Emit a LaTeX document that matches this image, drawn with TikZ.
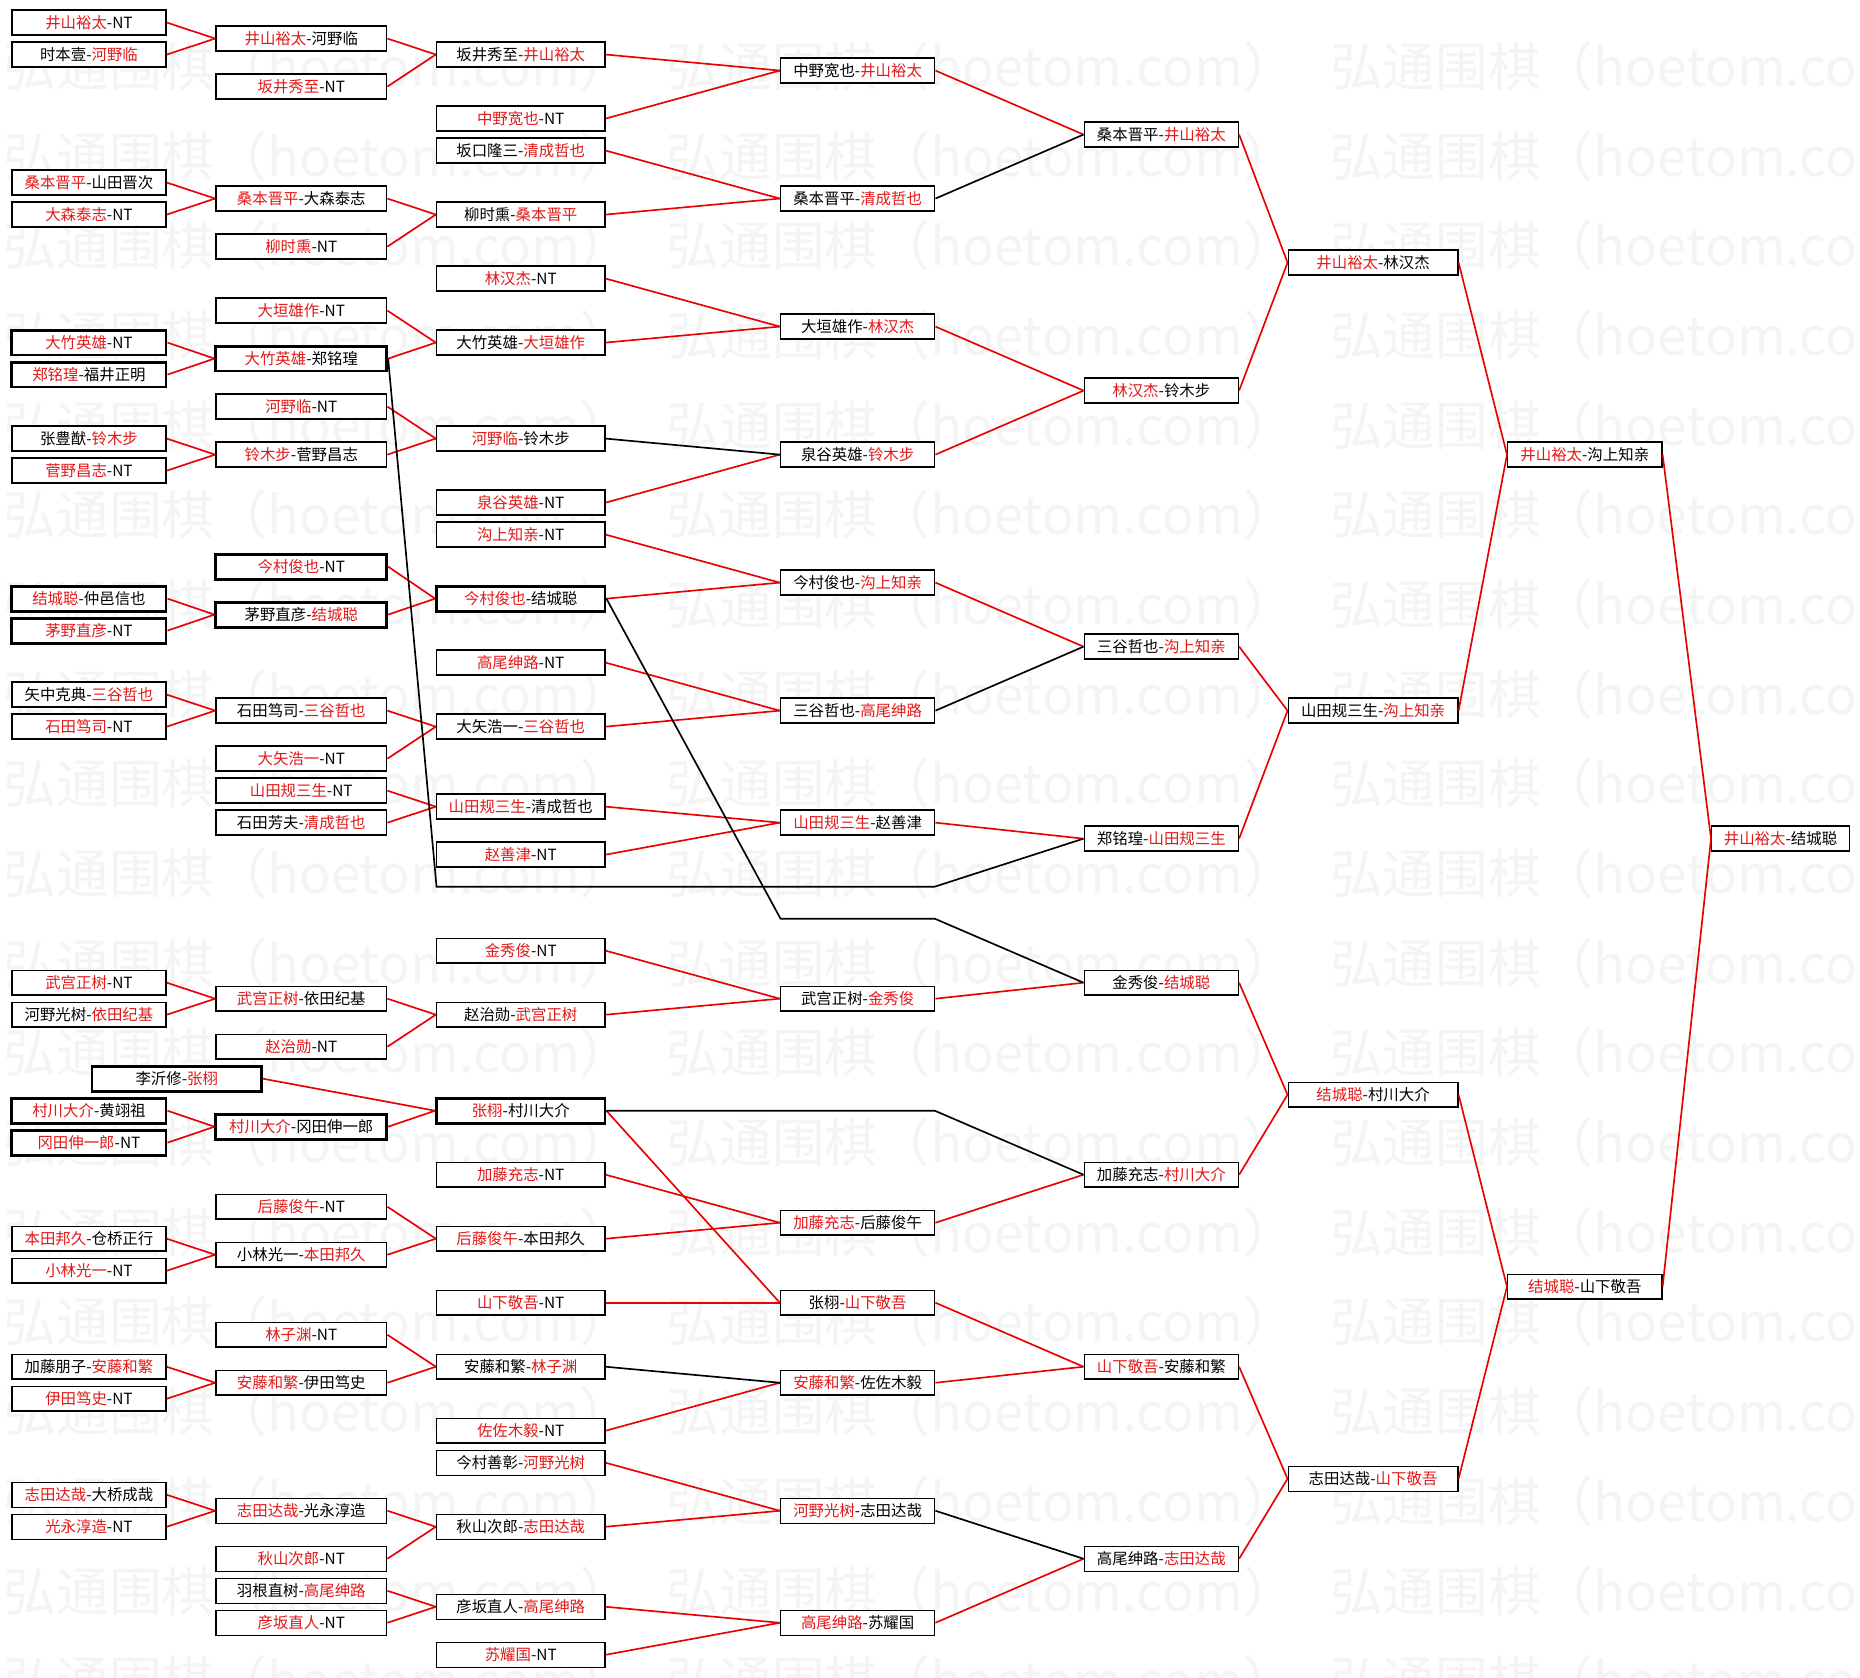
\documentclass[tikz,border=0pt]{standalone}
\usepackage{fontspec}
\usepackage{graphicx}
\newfontfamily\cjk{Noto Sans CJK SC}
\definecolor{wred}{RGB}{225,25,25}
\definecolor{lred}{RGB}{235,0,0}
\definecolor{wmk}{RGB}{244,244,244}
\newcommand\R[1]{\textcolor{wred}{#1}}
\begin{document}
\begin{tikzpicture}[x=1pt,y=-1pt,
  box/.style={draw=black, fill=white, line width=1.2pt, inner sep=0pt, minimum height=21pt,
    font=\cjk\fontsize{13}{13}\selectfont, text=black},
  thk/.style={line width=2.4pt},
  c1/.style={box, minimum width=130pt},
  c2/.style={box, minimum width=144pt},
  c3/.style={box, minimum width=142pt},
  c4/.style={box, minimum width=130pt},
  c5/.style={box, minimum width=130pt},
  c6/.style={box, minimum width=143pt},
  c7/.style={box, minimum width=130pt},
  c8/.style={box, minimum width=116pt},
  rl/.style={draw=lred, line width=1.4pt},
  bl/.style={draw=black, line width=1.4pt},
  wm/.style={anchor=west, inner sep=0pt, text=wmk}]
\fill[white] (0,0) rectangle (1568,1414);
\useasboundingbox (0,0) rectangle (1568,1414);
% watermark
\foreach \n in {0,...,18}{
  \foreach \j in {0,1,2}{
    \node[wm] (w\n x\j) at ({3+559*\j},{56+75.6*\n}) {\resizebox{530pt}{!}{\cjk 弘通围棋（hoetom.com）}};
  }
}
% column 1
\node[c1] (a1) at (75,19) {\R{井山裕太}-NT};
\node[c1] (a2) at (75,45.98) {时本壹-\R{河野临}};
\node[c1] (a3) at (75,153.9) {\R{桑本晋平}-山田晋次};
\node[c1] (a4) at (75,180.88) {\R{大森泰志}-NT};
\node[c1,thk] (a5) at (75,288.8) {\R{大竹英雄}-NT};
\node[c1,thk] (a6) at (75,315.78) {\R{郑铭瑝}-福井正明};
\node[c1] (a7) at (75,369.74) {张豊猷-\R{铃木步}};
\node[c1] (a8) at (75,396.72) {\R{菅野昌志}-NT};
\node[c1,thk] (a9) at (75,504.64) {\R{结城聪}-仲邑信也};
\node[c1,thk] (a10) at (75,531.62) {\R{茅野直彦}-NT};
\node[c1] (a11) at (75,585.58) {矢中克典-\R{三谷哲也}};
\node[c1] (a12) at (75,612.56) {\R{石田笃司}-NT};
\node[c1] (a13) at (75,828.4) {\R{武宫正树}-NT};
\node[c1] (a14) at (75,855.38) {河野光树-\R{依田纪基}};
\node[box,thk,minimum width=143pt] (a15) at (149,909.34) {李沂修-\R{张栩}};
\node[c1,thk] (a16) at (75,936.32) {\R{村川大介}-黄翊祖};
\node[c1,thk] (a17) at (75,963.3) {\R{冈田伸一郎}-NT};
\node[c1] (a18) at (75,1044.24) {\R{本田邦久}-仓桥正行};
\node[c1] (a19) at (75,1071.22) {\R{小林光一}-NT};
\node[c1] (a20) at (75,1152.16) {加藤朋子-\R{安藤和繁}};
\node[c1] (a21) at (75,1179.14) {\R{伊田笃史}-NT};
\node[c1] (a22) at (75,1260.08) {\R{志田达哉}-大桥成哉};
\node[c1] (a23) at (75,1287.06) {\R{光永淳造}-NT};
% column 2
\node[c2] (b1) at (254,32.49) {\R{井山裕太}-河野临};
\node[c2] (b2) at (254,72.96) {\R{坂井秀至}-NT};
\node[c2] (b3) at (254,167.39) {\R{桑本晋平}-大森泰志};
\node[c2] (b4) at (254,207.86) {\R{柳时熏}-NT};
\node[c2] (b5) at (254,261.82) {\R{大垣雄作}-NT};
\node[c2,thk] (b6) at (254,302.29) {\R{大竹英雄}-郑铭瑝};
\node[c2] (b7) at (254,342.76) {\R{河野临}-NT};
\node[c2] (b8) at (254,383.23) {\R{铃木步}-菅野昌志};
\node[c2,thk] (b9) at (254,477.66) {\R{今村俊也}-NT};
\node[c2,thk] (b10) at (254,518.13) {茅野直彦-\R{结城聪}};
\node[c2] (b11) at (254,599.07) {石田笃司-\R{三谷哲也}};
\node[c2] (b12) at (254,639.54) {\R{大矢浩一}-NT};
\node[c2] (b13) at (254,666.52) {\R{山田规三生}-NT};
\node[c2] (b14) at (254,693.5) {石田芳夫-\R{清成哲也}};
\node[c2] (b15) at (254,841.89) {\R{武宫正树}-依田纪基};
\node[c2] (b16) at (254,882.36) {\R{赵治勋}-NT};
\node[c2,thk] (b17) at (254,949.81) {\R{村川大介}-冈田伸一郎};
\node[c2] (b18) at (254,1017.26) {\R{后藤俊午}-NT};
\node[c2] (b19) at (254,1057.73) {小林光一-\R{本田邦久}};
\node[c2] (b20) at (254,1125.18) {\R{林子渊}-NT};
\node[c2] (b21) at (254,1165.65) {\R{安藤和繁}-伊田笃史};
\node[c2] (b22) at (254,1273.57) {\R{志田达哉}-光永淳造};
\node[c2] (b23) at (254,1314.04) {\R{秋山次郎}-NT};
\node[c2] (b24) at (254,1341.02) {羽根直树-\R{高尾绅路}};
\node[c2] (b25) at (254,1368) {\R{彦坂直人}-NT};
% column 3
\node[c3] (c1) at (439,45.98) {坂井秀至-\R{井山裕太}};
\node[c3] (c2) at (439,99.94) {\R{中野宽也}-NT};
\node[c3] (c3) at (439,126.92) {坂口隆三-\R{清成哲也}};
\node[c3] (c4) at (439,180.88) {柳时熏-\R{桑本晋平}};
\node[c3] (c5) at (439,234.84) {\R{林汉杰}-NT};
\node[c3] (c6) at (439,288.8) {大竹英雄-\R{大垣雄作}};
\node[c3] (c7) at (439,369.74) {\R{河野临}-铃木步};
\node[c3] (c8) at (439,423.7) {\R{泉谷英雄}-NT};
\node[c3] (c9) at (439,450.68) {\R{沟上知亲}-NT};
\node[c3,thk] (c10) at (439,504.64) {\R{今村俊也}-结城聪};
\node[c3] (c11) at (439,558.6) {\R{高尾绅路}-NT};
\node[c3] (c12) at (439,612.56) {大矢浩一-\R{三谷哲也}};
\node[c3] (c13) at (439,680.01) {\R{山田规三生}-清成哲也};
\node[c3] (c14) at (439,720.48) {\R{赵善津}-NT};
\node[c3] (c15) at (439,801.42) {\R{金秀俊}-NT};
\node[c3] (c16) at (439,855.38) {赵治勋-\R{武宫正树}};
\node[c3,thk] (c17) at (439,936.32) {\R{张栩}-村川大介};
\node[c3] (c18) at (439,990.28) {\R{加藤充志}-NT};
\node[c3] (c19) at (439,1044.24) {\R{后藤俊午}-本田邦久};
\node[c3] (c20) at (439,1098.2) {\R{山下敬吾}-NT};
\node[c3] (c21) at (439,1152.16) {安藤和繁-\R{林子渊}};
\node[c3] (c22) at (439,1206.12) {\R{佐佐木毅}-NT};
\node[c3] (c23) at (439,1233.1) {今村善彰-\R{河野光树}};
\node[c3] (c24) at (439,1287.06) {秋山次郎-\R{志田达哉}};
\node[c3] (c25) at (439,1354.51) {彦坂直人-\R{高尾绅路}};
\node[c3] (c26) at (439,1394.98) {\R{苏耀国}-NT};
% column 4
\node[c4] (d1) at (723,59.47) {中野宽也-\R{井山裕太}};
\node[c4] (d2) at (723,167.39) {桑本晋平-\R{清成哲也}};
\node[c4] (d3) at (723,275.31) {大垣雄作-\R{林汉杰}};
\node[c4] (d4) at (723,383.23) {泉谷英雄-\R{铃木步}};
\node[c4] (d5) at (723,491.15) {今村俊也-\R{沟上知亲}};
\node[c4] (d6) at (723,599.07) {三谷哲也-\R{高尾绅路}};
\node[c4] (d7) at (723,693.5) {\R{山田规三生}-赵善津};
\node[c4] (d8) at (723,841.89) {武宫正树-\R{金秀俊}};
\node[c4] (d9) at (723,1030.75) {\R{加藤充志}-后藤俊午};
\node[c4] (d10) at (723,1098.2) {张栩-\R{山下敬吾}};
\node[c4] (d11) at (723,1165.65) {\R{安藤和繁}-佐佐木毅};
\node[c4] (d12) at (723,1273.57) {\R{河野光树}-志田达哉};
\node[c4] (d13) at (723,1368) {\R{高尾绅路}-苏耀国};
% column 5
\node[c5] (e1) at (979,113.43) {桑本晋平-\R{井山裕太}};
\node[c5] (e2) at (979,329.27) {\R{林汉杰}-铃木步};
\node[c5] (e3) at (979,545.11) {三谷哲也-\R{沟上知亲}};
\node[c5] (e4) at (979,706.99) {郑铭瑝-\R{山田规三生}};
\node[c5] (e5) at (979,828.4) {金秀俊-\R{结城聪}};
\node[c5] (e6) at (979,990.28) {加藤充志-\R{村川大介}};
\node[c5] (e7) at (979,1152.16) {\R{山下敬吾}-安藤和繁};
\node[c5] (e8) at (979,1314.04) {高尾绅路-\R{志田达哉}};
% column 6
\node[c6] (f1) at (1157.5,221.35) {\R{井山裕太}-林汉杰};
\node[c6] (f2) at (1157.5,599.07) {山田规三生-\R{沟上知亲}};
\node[c6] (f3) at (1157.5,922.83) {\R{结城聪}-村川大介};
\node[c6] (f4) at (1157.5,1246.59) {志田达哉-\R{山下敬吾}};
% column 7
\node[c7] (g1) at (1336,383.23) {\R{井山裕太}-沟上知亲};
\node[c7] (g2) at (1336,1084.71) {\R{结城聪}-山下敬吾};
% column 8
\node[c8] (h1) at (1501,706.99) {\R{井山裕太}-结城聪};
% red connectors
\foreach \s/\t in {a1/b1,a2/b1,a3/b3,a4/b3,a5/b6,a6/b6,a7/b8,a8/b8,a9/b10,a10/b10,
  a11/b11,a12/b11,a13/b15,a14/b15,a16/b17,a17/b17,a18/b19,a19/b19,a20/b21,a21/b21,
  a22/b22,a23/b22,a15/c17,
  b1/c1,b2/c1,b3/c4,b4/c4,b5/c6,b6/c6,b7/c7,b8/c7,b9/c10,b10/c10,b11/c12,b12/c12,
  b13/c13,b14/c13,b15/c16,b16/c16,b17/c17,b18/c19,b19/c19,b20/c21,b21/c21,b22/c24,
  b23/c24,b24/c25,b25/c25,
  c1/d1,c2/d1,c3/d2,c4/d2,c5/d3,c6/d3,c8/d4,c9/d5,c10/d5,c11/d6,c12/d6,c13/d7,c14/d7,
  c15/d8,c16/d8,c17/d10,c18/d9,c19/d9,c20/d10,c22/d11,c23/d12,c24/d12,c25/d13,c26/d13,
  d1/e1,d3/e2,d4/e2,d5/e3,d7/e4,d8/e5,d9/e6,d10/e7,d11/e7,d13/e8,
  e1/f1,e2/f1,e3/f2,e4/f2,e5/f3,e6/f3,e7/f4,e8/f4,
  f1/g1,f2/g1,f3/g2,f4/g2,g1/h1,g2/h1}
  \draw[rl] (\s.east) -- (\t.west);
% black connectors
\foreach \s/\t in {c7/d4,c21/d11,d2/e1,d6/e3,d12/e8}
  \draw[bl] (\s.east) -- (\t.west);
\coordinate (p1) at (368,747.46);
\coordinate (p2) at (788,747.46);
\coordinate (p3) at (658,774.44);
\coordinate (p4) at (788,774.44);
\coordinate (p5) at (658,936.32);
\coordinate (p6) at (788,936.32);
\draw[bl] (b6.east) -- (p1) -- (p2) -- (e4.west);
\draw[bl] (c10.east) -- (p3) -- (p4) -- (e5.west);
\draw[bl] (c17.east) -- (p5) -- (p6) -- (e6.west);
\end{tikzpicture}
\end{document}
